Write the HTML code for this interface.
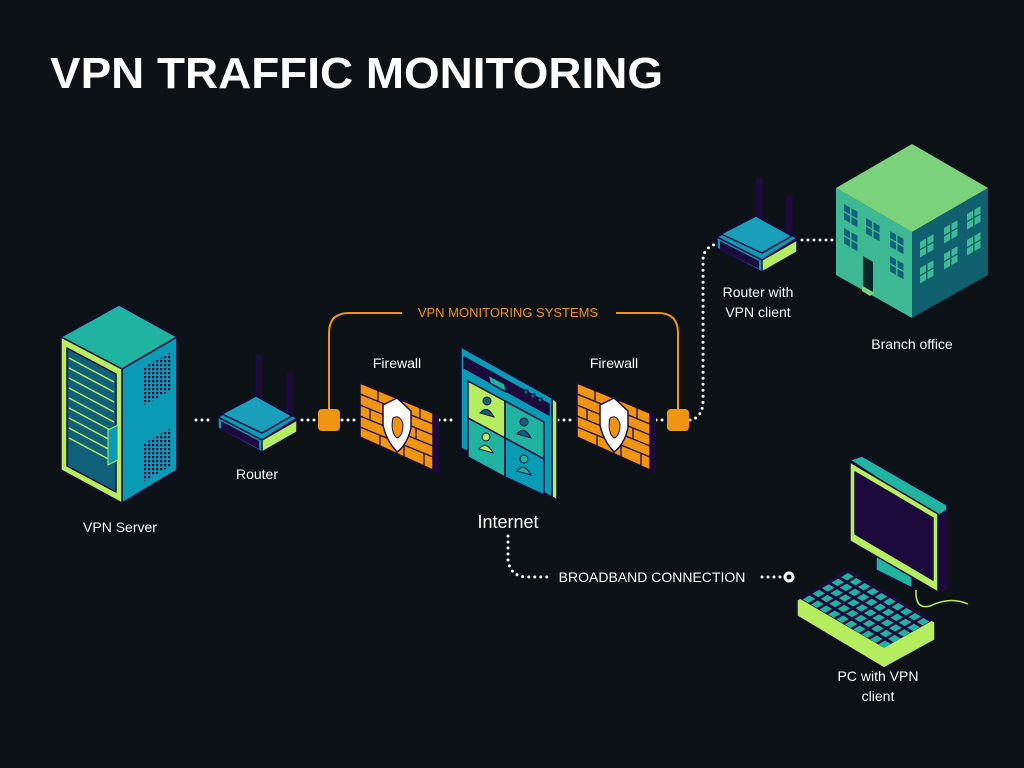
<!DOCTYPE html>
<html><head><meta charset="utf-8"><style>
html,body{margin:0;padding:0;background:#0b1114;}
svg{display:block}
text{font-family:"Liberation Sans",sans-serif;fill:#fff}
</style></head><body>
<svg width="1024" height="768" viewBox="0 0 1024 768" xmlns="http://www.w3.org/2000/svg">
<defs>
<pattern id="vent" width="4" height="4" patternUnits="userSpaceOnUse"><rect width="2.2" height="2.2" fill="#1d0a3d"/></pattern>
<g id="win"><rect x="0" y="0" width="6" height="7"/><rect x="7.5" y="0" width="6" height="7"/><rect x="0" y="8.5" width="6" height="7"/><rect x="7.5" y="8.5" width="6" height="7"/></g>
</defs>
<rect width="1024" height="768" fill="#0b1114"/>
<text x="50" y="88" font-size="44" font-weight="bold" textLength="613" lengthAdjust="spacingAndGlyphs">VPN TRAFFIC MONITORING</text>

<g stroke="#fff" stroke-width="3" stroke-linecap="round" stroke-dasharray="0 6" fill="none">
<path d="M196 420 H214"/>
<path d="M302 420 H318"/>
<path d="M342 420 H358"/>
<path d="M439 420 H456"/>
<path d="M558 420 H575"/>
<path d="M656 420 H668"/>
<path d="M690 420 Q703 418 703 400 V260 Q703 248 716 244"/>
<path d="M802 240 H834"/>
<path d="M508 536 V560 Q510 576 526 577 H548"/>
<path d="M762 577 H782"/>
</g>
<circle cx="789" cy="577" r="4" fill="#0b1114" stroke="#fff" stroke-width="3"/>

<g stroke="#f0950f" stroke-width="2" fill="none">
<path d="M329 410 V333 Q329 313 349 313 H402"/>
<path d="M616 313 H658 Q678 313 678 333 V410"/>
</g>
<rect x="318" y="409" width="22" height="22" rx="4" fill="#f0950f"/>
<rect x="667" y="409" width="22" height="22" rx="4" fill="#f0950f"/>
<text x="508" y="317" font-size="13" text-anchor="middle" style="fill:#f0950f">VPN MONITORING SYSTEMS</text>

<!-- server -->
<g stroke="#1d0a3d" stroke-width="1.5" stroke-linejoin="round">
<polygon points="119,305 177,337 122,369 61,337" fill="#1fb3a0"/>
<polygon points="122,369 177,337 177,470 122,503" fill="#0a9bb4"/>
<polygon points="61,337 122,369 122,503 61,470" fill="#b5ee5e"/>
<polygon points="67,348 116,374 116,492 67,466" fill="#11607a"/>
</g>
<g stroke="#b5ee5e" stroke-width="1.5">
<path d="M69 358 L114 382 M69 368 L114 392 M69 378 L114 402 M69 388 L114 412 M69 398 L114 422 M69 408 L114 432 M69 418 L114 442 M69 428 L114 452 M69 438 L114 462"/>
</g>
<polygon points="108,430 118,425 118,460 108,465" fill="#0a9bb4" stroke="#b5ee5e"/>
<polygon points="144,367 171,352 171,390 144,405" fill="url(#vent)"/>
<polygon points="144,443 171,428 171,466 144,481" fill="url(#vent)"/>

<!-- router 1 -->
<g stroke="#1d0a3d" stroke-width="1.5" stroke-linejoin="round">
<rect x="256" y="355" width="5" height="50" fill="#1d0a3d"/>
<rect x="287" y="373" width="5" height="40" fill="#1d0a3d"/>
<polygon points="218,417 218,428 262,452 297,432 297,420 262,440" fill="#b5ee5e"/>
<polygon points="218,417 262,440 262,452 218,428" fill="#0a9bb4"/>
<polygon points="218,417 256,396 297,418 262,440" fill="#0a9bb4"/>
<polygon points="222,414 256,396 292,416 262,433" fill="#1a9fbb"/>
</g>
<polygon points="221,421 259,441 259,449 221,429" fill="#1d0a3d"/>

<!-- firewalls -->
<g id="fw">
<polygon points="360,383 433,413 439,417 439,474 433,470" fill="#1d0a3d"/>
<polygon points="360,383 433,413 433,470 360,437" fill="#f0950f" stroke="#1d0a3d" stroke-width="1.5"/>
<g stroke="#1d0a3d" stroke-width="1.3" fill="none">
<path d="M360 394 L433 424 M360 405 L433 435 M360 416 L433 446 M360 427 L433 457"/>
<path d="M378 390 V401 M402 400 V411 M420 407 V418 M370 409 V420 M392 418 V429 M416 428 V439 M380 436 V446 M404 446 V457 M424 454 V465"/>
</g>
<path d="M383 405 L397 398 L411 411 L411 428 Q407 445 397 452 Q386 440 383 425 Z" fill="#fff" stroke="#1d0a3d" stroke-width="1.5"/>
<path d="M393 418 Q400 414 403 424 Q403 436 397 438 Q390 432 393 418 Z" fill="#f0950f" stroke="#1d0a3d"/>
</g>
<use href="#fw" transform="translate(217,0)"/>
<text x="397" y="368" font-size="14" text-anchor="middle">Firewall</text>
<text x="614" y="368" font-size="14" text-anchor="middle">Firewall</text>

<!-- internet panel -->
<g stroke="#1d0a3d" stroke-width="1.5" stroke-linejoin="round">
<polygon points="552,398 557,402 557,500 552,497" fill="#b5ee5e"/>
<polygon points="461,347 552,398 552,497 461,448" fill="#0a9bb4"/>
<polygon points="464,357 549,404 549,415 464,368" fill="#1d0a3d"/>
<polygon points="488,375 505,384 506,392 490,383" fill="#1fb3a0"/>
<polygon points="468,381 505,401 505,438 468,418" fill="#b5ee5e"/>
<polygon points="505,401 544,422 544,459 505,438" fill="#1fb3a0"/>
<polygon points="468,418 505,438 505,477 468,457" fill="#1fb3a0"/>
<polygon points="505,438 544,459 544,495 505,477" fill="#0a9bb4"/>
</g>
<g fill="#11607a" stroke="#1d0a3d">
<rect x="524" y="390" width="4" height="4"/><rect x="531" y="394" width="4" height="4"/><rect x="538" y="398" width="4" height="4"/>
<circle cx="487" cy="401" r="4"/><path d="M480 413 Q487 404 494 417 Z"/>
<circle cx="524" cy="422" r="4"/><path d="M517 434 Q524 425 531 438 Z"/>
<circle cx="486" cy="437" r="4" fill="#b5ee5e"/><path d="M479 449 Q486 440 493 453 Z" fill="#b5ee5e"/>
<circle cx="524" cy="459" r="4" fill="#1fb3a0"/><path d="M517 471 Q524 462 531 475 Z" fill="#1fb3a0"/>
</g>
<text x="508" y="528" font-size="18" text-anchor="middle">Internet</text>

<!-- router 2 -->
<g stroke="#1d0a3d" stroke-width="1.5" stroke-linejoin="round">
<rect x="757" y="178" width="5" height="50" fill="#1d0a3d"/>
<rect x="787" y="196" width="5" height="40" fill="#1d0a3d"/>
<polygon points="717,237 717,248 762,272 797,252 797,240 762,260" fill="#b5ee5e"/>
<polygon points="717,237 762,260 762,272 717,248" fill="#0a9bb4"/>
<polygon points="717,237 756,216 797,238 762,260" fill="#0a9bb4"/>
<polygon points="721,234 756,216 792,236 762,253" fill="#1a9fbb"/>
</g>
<polygon points="720,241 759,261 759,269 720,249" fill="#1d0a3d"/>
<text x="758" y="297" font-size="14" text-anchor="middle">Router with</text>
<text x="758" y="317" font-size="14" text-anchor="middle">VPN client</text>

<!-- building -->
<polygon points="912,144 988,188 912,232 836,188" fill="#7bd27a"/>
<polygon points="836,188 912,232 912,318 836,275" fill="#3dba94"/>
<polygon points="912,232 988,188 988,275 912,318" fill="#0f5f6e"/>
<g fill="#11607a">
<use href="#win" transform="translate(844,204) skewY(30)"/>
<use href="#win" transform="translate(866,218) skewY(30)"/>
<use href="#win" transform="translate(890,231) skewY(30)"/>
<use href="#win" transform="translate(844,228) skewY(30)"/>
<use href="#win" transform="translate(890,256) skewY(30)"/>
</g>
<polygon points="863,256 873,262 873,292 863,286" fill="#06262c"/>
<polygon points="862,286 875,293 870,296 862,291" fill="#7bd27a"/>
<g fill="#3dba94">
<use href="#win" transform="translate(920,242) skewY(-30)"/>
<use href="#win" transform="translate(944,228) skewY(-30)"/>
<use href="#win" transform="translate(967,214) skewY(-30)"/>
<use href="#win" transform="translate(920,268) skewY(-30)"/>
<use href="#win" transform="translate(944,254) skewY(-30)"/>
<use href="#win" transform="translate(967,240) skewY(-30)"/>
</g>
<text x="912" y="349" font-size="14" text-anchor="middle">Branch office</text>

<!-- PC -->
<g stroke="#1d0a3d" stroke-width="1.5" stroke-linejoin="round">
<polygon points="876,556 912,575 912,588 876,570" fill="#1fb3a0"/>
<polygon points="850,460 862,456 947,505 947,512 936,517" fill="#1fb3a0"/>
<polygon points="947,510 947,588 938,592 938,516" fill="#1d0a3d"/>
<polygon points="850,462 938,514 938,592 850,541" fill="#b5ee5e"/>
<polygon points="855,472 933,518 933,580 855,534" fill="#1d0a3d"/>
<polygon points="797,600 848,570 935,622 935,640 884,668 797,616" fill="#b5ee5e"/>
<polygon points="800,598 848,570 932,620 884,647" fill="#1d0a3d"/>
</g>
<g fill="#1fb3a0" transform="matrix(0.84,0.5,-0.96,0.56,848,572)">
<g id="krow"><rect x="1" y="1" width="7" height="7"/><rect x="11" y="1" width="7" height="7"/><rect x="21" y="1" width="7" height="7"/><rect x="31" y="1" width="7" height="7"/><rect x="41" y="1" width="7" height="7"/><rect x="51" y="1" width="7" height="7"/><rect x="61" y="1" width="7" height="7"/><rect x="71" y="1" width="7" height="7"/><rect x="81" y="1" width="7" height="7"/><rect x="91" y="1" width="7" height="7"/></g>
<use href="#krow" y="10"/><use href="#krow" y="20"/><use href="#krow" y="30"/><use href="#krow" y="40"/>
</g>
<path d="M916 590 Q915 610 930 606 Q950 596 968 604" stroke="#b5ee5e" stroke-width="1.5" fill="none"/>
<text x="878" y="681" font-size="14" text-anchor="middle">PC with VPN</text>
<text x="878" y="701" font-size="14" text-anchor="middle">client</text>

<text x="120" y="532" font-size="14" text-anchor="middle">VPN Server</text>
<text x="257" y="479" font-size="14" text-anchor="middle">Router</text>
<text x="652" y="582" font-size="14" text-anchor="middle">BROADBAND CONNECTION</text>
</svg>
</body></html>
